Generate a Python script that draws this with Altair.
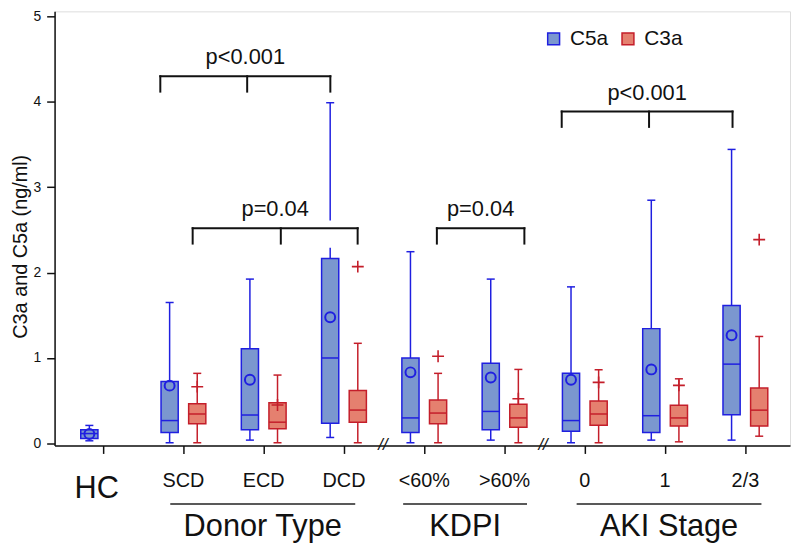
import altair as alt
import pandas as pd

FONT = "Liberation Sans, Arial, sans-serif"

# ---------------- data ----------------
groups = ["HC", "SCD", "ECD", "DCD", "<60%", ">60%", "0", "1", "2/3"]
series_names = ["C5a", "C3a"]

c5a_low = [0.03, 0.007, 0.038, 0.069, 0.007, 0.038, 0.007, 0.038, 0.038]
c5a_q1 = [0.057, 0.126, 0.16, 0.236, 0.126, 0.16, 0.141, 0.126, 0.336]
c5a_median = [0.115, 0.267, 0.332, 1.0, 0.298, 0.374, 0.267, 0.324, 0.928]
c5a_q3 = [0.16, 0.725, 1.107, 2.165, 1.0, 0.939, 0.82, 1.344, 1.615]
c5a_high = [0.21, 1.65, 1.924, 3.99, 2.245, 1.924, 1.833, 2.848, 3.443]
c5a_mean = [0.11, 0.676, 0.745, 1.478, 0.832, 0.771, 0.745, 0.866, 1.267]

c3a_low = [None, 0.007, 0.007, 0.007, 0.007, 0.007, 0.007, 0.018, 0.084]
c3a_q1 = [None, 0.229, 0.172, 0.248, 0.229, 0.19, 0.213, 0.202, 0.202]
c3a_median = [None, 0.344, 0.248, 0.39, 0.355, 0.298, 0.344, 0.298, 0.389]
c3a_q3 = [None, 0.465, 0.477, 0.618, 0.507, 0.458, 0.496, 0.447, 0.648]
c3a_high = [None, 0.82, 0.80, 1.172, 0.82, 0.866, 0.862, 0.756, 1.252]
c3a_marker = [None, 0.664, 0.45, 2.07, 1.02, 0.522, 0.714, 0.679, 2.386]

section_names = ["Donor Type", "KDPI", "AKI Stage"]
section_start = [0.836, 3.737, 5.898]
section_end = [3.14, 5.28, 8.2]

break_positions = [3.485, 5.48]

bracket_labels = ["p<0.001", "p=0.04", "p=0.04", "p<0.001"]
bracket_legs = [[0.712, 1.794, 2.83], [1.115, 2.213, 3.17], [4.157, 5.247], [5.712, 6.80, 7.84]]
bracket_top = [4.30, 2.52, 2.52, 3.887]

fill_colors = ["#7B97CF", "#E5806F"]
stroke_colors = ["#1F1FE0", "#C41E2A"]

# ---------------- tables ----------------
rows = []
stats = {
    "C5a": (c5a_low, c5a_q1, c5a_median, c5a_q3, c5a_high, c5a_mean),
    "C3a": (c3a_low, c3a_q1, c3a_median, c3a_q3, c3a_high, c3a_marker),
}
for i, g in enumerate(groups):
    for s in series_names:
        lo, q1, md, q3, hi, mk = (arr[i] for arr in stats[s])
        if lo is None:
            continue
        rows.append(dict(idx=i, group=g, series=s, low=lo, q1=q1, median=md,
                         q3=q3, high=hi, marker=mk))
df = pd.DataFrame(rows)

labels_df = pd.DataFrame({"idx": list(range(len(groups))), "label": groups})
sections_df = pd.DataFrame({"name": section_names, "start": section_start, "end": section_end})
breaks_df = pd.DataFrame({"pos": break_positions, "txt": ["//"] * len(break_positions)})
br_h = pd.DataFrame({
    "label": bracket_labels,
    "x1": [min(l) for l in bracket_legs],
    "x2": [max(l) for l in bracket_legs],
    "top": bracket_top,
})
br_legs = pd.DataFrame([
    {"x": x, "top": t} for legs, t in zip(bracket_legs, bracket_top) for x in legs
])

# ---------------- scales / axes ----------------
xscale = alt.Scale(domain=[-0.605, 8.556], nice=False, zero=False)
yscale = alt.Scale(domain=[-0.025, 5.06], nice=False, zero=False)

xaxis = alt.Axis(values=list(range(len(groups))), labels=False, title=None, grid=False,
                 tickSize=8, tickWidth=1.5, tickColor="#111", domainColor="#111",
                 domainWidth=1.5)
yaxis = alt.Axis(values=[0, 1, 2, 3, 4, 5], grid=False, tickSize=8, tickWidth=1.5,
                 tickColor="#111", domainColor="#111", domainWidth=1.5,
                 labelFontSize=14, labelFont=FONT, labelColor="#111", labelPadding=6,
                 title="C3a and C5a (ng/ml)", titleFontSize=20, titleFont=FONT,
                 titleFontWeight="normal", titleColor="#111", titleAngle=270,
                 titleX=-28, titleY=237, titleAlign="center",
                 titleBaseline="alphabetic")

leg = alt.Legend(title=None, orient="none", legendX=493, legendY=17,
                 direction="horizontal", symbolType="square", symbolSize=144,
                 symbolStrokeWidth=1.5, labelFontSize=21, labelFont=FONT,
                 labelColor="#111", labelOffset=6, columnPadding=9, padding=0)

fill_scale = alt.Scale(domain=series_names, range=fill_colors)
stroke_scale = alt.Scale(domain=series_names, range=stroke_colors)


def stroke_enc():
    return alt.Stroke("series:N", scale=stroke_scale, legend=leg)


base = alt.Chart(df).transform_calculate(
    pos="datum.idx + (datum.series == 'C5a' ? -0.172 : 0.172)",
).transform_calculate(
    bl="datum.pos - 0.107",
    br="datum.pos + 0.107",
    cl="datum.pos - 0.05",
    cr="datum.pos + 0.05",
)

whisker = base.mark_rule(strokeWidth=1.5).encode(
    x=alt.X("pos:Q", scale=xscale, axis=xaxis),
    y=alt.Y("low:Q", scale=yscale, axis=yaxis),
    y2="high:Q",
    stroke=stroke_enc(),
)
cap_low = base.mark_rule(strokeWidth=1.5).encode(
    x=alt.X("cl:Q", scale=xscale, axis=xaxis), x2="cr:Q",
    y=alt.Y("low:Q", scale=yscale, axis=yaxis),
    stroke=stroke_enc(),
)
cap_high = base.mark_rule(strokeWidth=1.5).encode(
    x=alt.X("cl:Q", scale=xscale, axis=xaxis), x2="cr:Q",
    y=alt.Y("high:Q", scale=yscale, axis=yaxis),
    stroke=stroke_enc(),
)
box = base.mark_rect(strokeWidth=1.5).encode(
    x=alt.X("bl:Q", scale=xscale, axis=xaxis), x2="br:Q",
    y=alt.Y("q1:Q", scale=yscale, axis=yaxis), y2="q3:Q",
    fill=alt.Fill("series:N", scale=fill_scale, legend=leg),
    stroke=stroke_enc(),
)
median = base.mark_rule(strokeWidth=1.5).encode(
    x=alt.X("bl:Q", scale=xscale, axis=xaxis), x2="br:Q",
    y=alt.Y("median:Q", scale=yscale, axis=yaxis),
    stroke=stroke_enc(),
)
mean_c5a = base.transform_filter("datum.series == 'C5a'").mark_point(
    shape="circle", filled=False, size=100, strokeWidth=2, opacity=1
).encode(
    x=alt.X("pos:Q", scale=xscale, axis=xaxis),
    y=alt.Y("marker:Q", scale=yscale, axis=yaxis),
    stroke=stroke_enc(),
)
plus_c3a = base.transform_filter("datum.series == 'C3a'").mark_point(
    shape="M-1,0H1M0,-1V1", filled=False, size=144, strokeWidth=1.6, opacity=1
).encode(
    x=alt.X("pos:Q", scale=xscale, axis=xaxis),
    y=alt.Y("marker:Q", scale=yscale, axis=yaxis),
    stroke=stroke_enc(),
)

bbase = alt.Chart(br_h)
knockout = bbase.transform_calculate(
    kx1="datum.x1 - 0.03", kx2="datum.x2 + 0.03",
    ky1="datum.top - 0.23", ky2="datum.top + 0.09",
).mark_rect(fill="white").encode(
    x=alt.X("kx1:Q", scale=xscale, axis=xaxis), x2="kx2:Q",
    y=alt.Y("ky1:Q", scale=yscale, axis=yaxis), y2="ky2:Q",
)
bracket_h = bbase.mark_rule(stroke="#111", strokeWidth=2, strokeCap="square").encode(
    x=alt.X("x1:Q", scale=xscale, axis=xaxis), x2="x2:Q",
    y=alt.Y("top:Q", scale=yscale, axis=yaxis),
)
bracket_v = alt.Chart(br_legs).transform_calculate(
    bottom="datum.top - 0.18"
).mark_rule(stroke="#111", strokeWidth=2, strokeCap="square").encode(
    x=alt.X("x:Q", scale=xscale, axis=xaxis),
    y=alt.Y("top:Q", scale=yscale, axis=yaxis), y2="bottom:Q",
)
bracket_t = bbase.transform_calculate(
    mid="(datum.x1 + datum.x2) / 2"
).mark_text(font=FONT, fontSize=22, color="#111", baseline="alphabetic",
            align="center", dy=-12).encode(
    x=alt.X("mid:Q", scale=xscale, axis=xaxis),
    y=alt.Y("top:Q", scale=yscale, axis=yaxis),
    text="label:N",
)

tick_labels = alt.Chart(labels_df).transform_filter("datum.idx > 0").mark_text(
    font=FONT, fontSize=20, color="#111", baseline="alphabetic", align="center"
).encode(
    x=alt.X("idx:Q", scale=xscale, axis=xaxis),
    y=alt.value(480),
    text="label:N",
)
hc_label = alt.Chart(labels_df).transform_filter("datum.idx == 0").mark_text(
    font=FONT, fontSize=31, color="#111", baseline="alphabetic", align="center", dx=-6.5
).encode(
    x=alt.X("idx:Q", scale=xscale, axis=xaxis),
    y=alt.value(491),
    text="label:N",
)

sec_lines = alt.Chart(sections_df).mark_rule(stroke="#222", strokeWidth=1.5).encode(
    x=alt.X("start:Q", scale=xscale, axis=xaxis), x2="end:Q",
    y=alt.value(497),
)
sec_text = alt.Chart(sections_df).transform_calculate(
    mid="(datum.start + datum.end) / 2"
).mark_text(font=FONT, fontSize=31, color="#111", baseline="alphabetic",
            align="center").encode(
    x=alt.X("mid:Q", scale=xscale, axis=xaxis),
    y=alt.value(529),
    text="name:N",
)

breaks = alt.Chart(breaks_df).mark_text(
    font=FONT, fontSize=17, fontStyle="italic", color="#111",
    baseline="middle", align="center"
).encode(
    x=alt.X("pos:Q", scale=xscale, axis=xaxis),
    y=alt.value(438),
    text="txt:N",
)

chart = alt.layer(
    whisker, cap_low, cap_high, box, median, mean_c5a, plus_c3a,
    knockout, bracket_h, bracket_v, bracket_t,
    tick_labels, hc_label, sec_lines, sec_text, breaks,
).properties(
    width=742, height=438,
    autosize=alt.AutoSizeParams(type="none"),
    padding={"left": 47, "top": 1, "right": 2, "bottom": 99},
).configure_view(
    stroke="#333", strokeWidth=1.5
).configure(
    background="white"
)

chart.save("out.html", embed_options={"renderer": "svg", "actions": False})
